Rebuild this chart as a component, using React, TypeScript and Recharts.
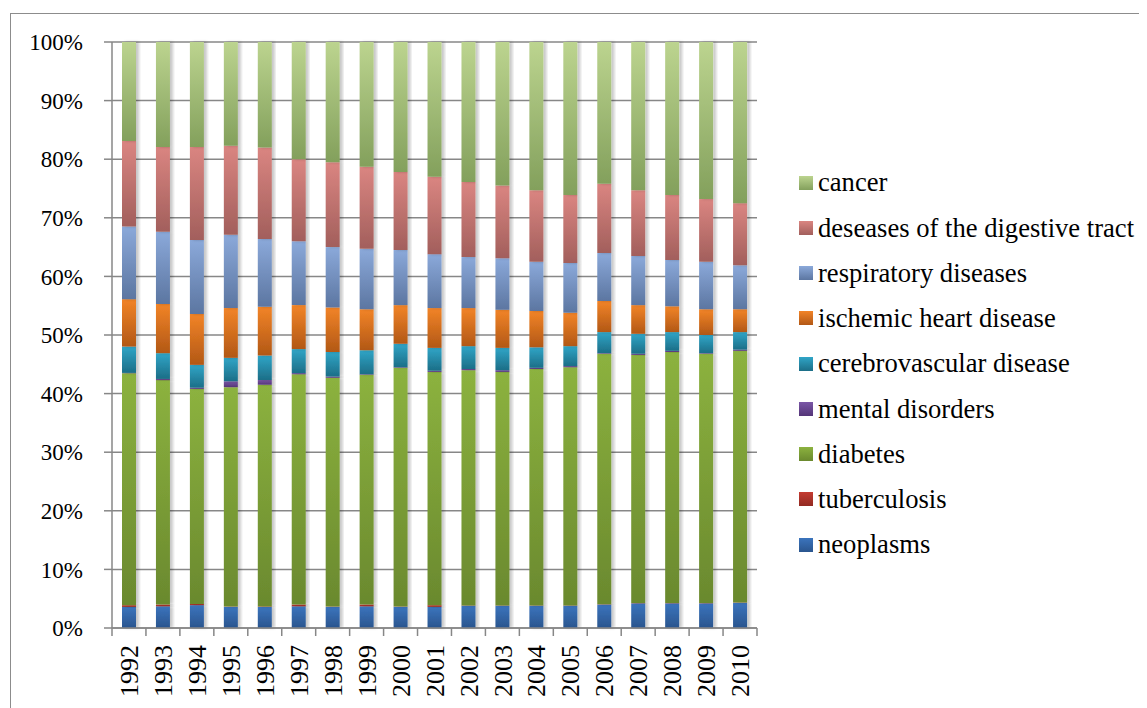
import React from 'react';
import { BarChart, Bar, XAxis, YAxis, CartesianGrid } from 'recharts';

const years = [
  '1992', '1993', '1994', '1995', '1996', '1997', '1998', '1999', '2000', '2001',
  '2002', '2003', '2004', '2005', '2006', '2007', '2008', '2009', '2010',
];

// shares in percent (bottom of the stack first)
const neoplasms = [3.6, 3.7, 3.9, 3.6, 3.6, 3.7, 3.6, 3.7, 3.6, 3.6, 3.8, 3.8, 3.8, 3.8, 4.0, 4.2, 4.2, 4.2, 4.3];
const tuberculosis = [0.3, 0.3, 0.2, 0.05, 0.05, 0.3, 0.05, 0.3, 0.05, 0.3, 0.05, 0.05, 0.05, 0.05, 0.05, 0.05, 0.05, 0.05, 0.05];
const diabetes = [39.6, 38.3, 36.7, 37.45, 37.85, 39.3, 39.05, 39.2, 40.75, 39.8, 40.15, 39.85, 40.35, 40.65, 42.75, 42.35, 42.85, 42.55, 42.95];
const mental = [0.05, 0.2, 0.2, 1.0, 0.8, 0.2, 0.2, 0.1, 0.1, 0.2, 0.2, 0.3, 0.2, 0.2, 0.1, 0.2, 0.2, 0.1, 0.2];
const cerebrovascular = [4.5, 4.4, 3.9, 4.0, 4.2, 4.1, 4.2, 4.1, 4.0, 3.9, 3.9, 3.8, 3.5, 3.4, 3.6, 3.4, 3.2, 3.1, 3.0];
const ischemic = [8.1, 8.4, 8.7, 8.5, 8.3, 7.5, 7.6, 7.0, 6.6, 6.8, 6.5, 6.5, 6.2, 5.7, 5.3, 4.9, 4.4, 4.4, 3.9];
const respiratory = [12.4, 12.3, 12.6, 12.5, 11.6, 10.9, 10.3, 10.3, 9.4, 9.2, 8.7, 8.8, 8.4, 8.5, 8.2, 8.4, 7.9, 8.1, 7.5];
const digestive = [14.6, 14.5, 15.9, 15.2, 15.6, 14.0, 14.5, 14.0, 13.3, 13.2, 12.8, 12.4, 12.2, 11.6, 11.8, 11.2, 11.1, 10.7, 10.6];
const cancer = [16.9, 17.9, 17.9, 17.7, 18.0, 20.0, 20.5, 21.3, 22.2, 23.0, 23.9, 24.5, 25.3, 26.1, 24.2, 25.3, 26.1, 26.8, 27.5];

const yTicks = [0, 0.1, 0.2, 0.3, 0.4, 0.5, 0.6, 0.7, 0.8, 0.9, 1];

const series = [
  { key: 'neoplasms', name: 'neoplasms', values: neoplasms, top: '#3b74bd', bottom: '#2a558e' },
  { key: 'tuberculosis', name: 'tuberculosis', values: tuberculosis, top: '#c43b31', bottom: '#922a22' },
  { key: 'diabetes', name: 'diabetes', values: diabetes, top: '#8cb23f', bottom: '#6a892e' },
  { key: 'mental', name: 'mental disorders', values: mental, top: '#7a56a6', bottom: '#543578' },
  { key: 'cerebrovascular', name: 'cerebrovascular disease', values: cerebrovascular, top: '#30a5c7', bottom: '#1c6e87' },
  { key: 'ischemic', name: 'ischemic heart disease', values: ischemic, top: '#f28427', bottom: '#b25816' },
  { key: 'respiratory', name: 'respiratory diseases', values: respiratory, top: '#8ba9da', bottom: '#5c76a1' },
  { key: 'digestive', name: 'deseases of the digestive tract', values: digestive, top: '#da8581', bottom: '#a25f5c' },
  { key: 'cancer', name: 'cancer', values: cancer, top: '#bcd48f', bottom: '#83a05c' },
];

const data = years.map((year, i) => {
  const row: Record<string, string | number> = { year };
  series.forEach((s) => {
    row[s.key] = s.values[i];
  });
  return row;
});

const FONT = '"Liberation Serif", "Times New Roman", serif';
const GRID = '#878787';
const PLOT_W = 645;
const STEP = PLOT_W / years.length;

function YearTick(props: any) {
  const { x, y, payload, index } = props;
  const last = index === years.length - 1;
  return (
    <g>
      <line x1={x - STEP / 2} x2={x - STEP / 2} y1={y} y2={y + 8} stroke={GRID} strokeWidth={1.5} />
      {last && <line x1={x + STEP / 2} x2={x + STEP / 2} y1={y} y2={y + 8} stroke={GRID} strokeWidth={1.5} />}
      <text
        x={0}
        y={0}
        transform={`translate(${x},${y + 17}) rotate(-90)`}
        textAnchor="end"
        dy="0.35em"
        fontFamily={FONT}
        fontSize={26}
        fill="#000"
      >
        {payload.value}
      </text>
    </g>
  );
}

export default function App() {
  const legendItems = [...series].reverse();
  return (
    <div style={{ position: 'relative', width: 1139, height: 700, overflow: 'hidden', background: '#fff' }}>
      <div
        style={{
          position: 'absolute',
          left: 2,
          top: 5,
          width: 1300,
          height: 900,
          border: '1.5px solid #8c8c8c',
        }}
      />
      <div style={{ position: 'absolute', left: 0, top: 0 }}>
        <BarChart
          width={1139}
          height={700}
          data={data}
          stackOffset="expand"
          margin={{ top: 34, right: 390, bottom: 0, left: 0 }}
        >
          <defs>
            {series.map((s) => (
              <linearGradient key={s.key} id={`g-${s.key}`} x1="0" y1="0" x2="0" y2="1">
                <stop offset="0%" stopColor={s.top} />
                <stop offset="100%" stopColor={s.bottom} />
              </linearGradient>
            ))}
            <filter id="shadow" x="-30%" y="-10%" width="160%" height="120%">
              <feDropShadow dx="3" dy="0" stdDeviation="1.5" floodColor="#000" floodOpacity="0.22" />
            </filter>
          </defs>
          <CartesianGrid vertical={false} stroke={GRID} strokeWidth={1.5} />
          <XAxis
            dataKey="year"
            height={80}
            interval={0}
            tickLine={false}
            tickSize={0}
            tickMargin={0}
            axisLine={{ stroke: GRID, strokeWidth: 1.5 }}
            tick={<YearTick />}
          />
          <YAxis
            width={104}
            domain={[0, 1]}
            ticks={yTicks}
            tickFormatter={(v: number) => `${Math.round(v * 100)}%`}
            tickSize={8}
            tickMargin={21}
            axisLine={{ stroke: GRID, strokeWidth: 1.5 }}
            tickLine={{ stroke: GRID, strokeWidth: 1.5 }}
            tick={{ fill: '#000', fontSize: 23, fontFamily: FONT }}
          />
          {series.map((s) => (
            <Bar
              key={s.key}
              dataKey={s.key}
              name={s.name}
              stackId="a"
              barSize={14}
              fill={`url(#g-${s.key})`}
              filter="url(#shadow)"
              isAnimationActive={false}
            />
          ))}
        </BarChart>
      </div>
      <div style={{ position: 'absolute', left: 791, top: 152 }}>
        {legendItems.map((s) => (
          <div
            key={s.key}
            style={{ display: 'flex', alignItems: 'center', height: 45.25, whiteSpace: 'nowrap' }}
          >
            <div
              style={{
                width: 14,
                height: 14,
                marginRight: 5,
                background: `linear-gradient(${s.top}, ${s.bottom})`,
              }}
            />
            <span style={{ fontFamily: FONT, fontSize: 26.6, color: '#000', lineHeight: 1 }}>{s.name}</span>
          </div>
        ))}
      </div>
    </div>
  );
}
